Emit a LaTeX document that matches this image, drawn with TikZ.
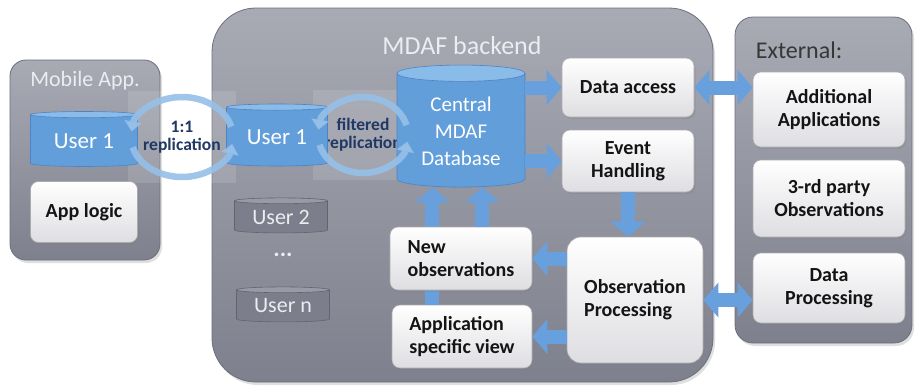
\documentclass[tikz,border=0pt]{standalone}
\usepackage{fontspec}
\setmainfont{Carlito}
\usetikzlibrary{shapes.geometric,arrows.meta,calc,shadows}
\definecolor{panelTop}{RGB}{168,170,180}
\definecolor{panelBot}{RGB}{126,128,141}
\definecolor{panelEdge}{RGB}{108,110,122}
\definecolor{boxEdge}{RGB}{170,170,175}
\definecolor{boxBot}{RGB}{222,222,226}
\definecolor{boxText}{RGB}{20,20,20}
\definecolor{cylBody}{RGB}{98,158,218}
\definecolor{cylTop}{RGB}{138,188,234}
\definecolor{cylEdge}{RGB}{78,132,196}
\definecolor{gcylBody}{RGB}{124,126,139}
\definecolor{gcylTop}{RGB}{152,154,165}
\definecolor{gcylEdge}{RGB}{98,100,113}
\definecolor{arrowBlue}{RGB}{104,160,222}
\definecolor{arcBlue}{RGB}{150,192,232}
\definecolor{navy}{RGB}{31,56,100}
\definecolor{titleWhite}{RGB}{236,237,242}
\begin{document}
\begin{tikzpicture}[x=1pt,y=-1pt,
  panel/.style={rectangle, draw=panelEdge, line width=0.8pt, top color=panelTop, bottom color=panelBot,
    drop shadow={opacity=0.25,shadow xshift=2pt,shadow yshift=-3pt}},
  paneltitle/.style={text=titleWhite, inner sep=0pt},
  box/.style={rectangle, rounded corners=8pt, draw=boxEdge, line width=0.6pt, top color=white, bottom color=boxBot,
    font=\fontsize{20}{23}\selectfont\bfseries, text=boxText, align=center, inner sep=2pt,
    drop shadow={opacity=0.3,shadow xshift=1.5pt,shadow yshift=-2pt}},
  bluecyl/.style={cylinder, shape border rotate=90, draw=cylEdge, line width=0.6pt, cylinder uses custom fill,
    cylinder body fill=cylBody, cylinder end fill=cylTop, text=white, font=\fontsize{23}{27}\selectfont,
    align=center, inner sep=1pt},
  graycyl/.style={cylinder, shape border rotate=90, draw=gcylEdge, line width=0.6pt, cylinder uses custom fill,
    cylinder body fill=gcylBody, cylinder end fill=gcylTop, text=titleWhite, font=\fontsize{22}{26}\selectfont,
    aspect=0.1, minimum width=93pt, minimum height=35pt, inner sep=0pt},
  repbox/.style={rectangle, fill=white, fill opacity=0.12, text opacity=1, text=navy,
    font=\fontsize{17.5}{18}\selectfont\bfseries, align=center, inner sep=0pt},
  reparc/.style={draw=arcBlue, draw opacity=0.9, line width=6.5pt, -{Triangle[width=17pt,length=10pt]}},
  barrow/.style={draw=arrowBlue, line width=14pt, -{Triangle[width=34pt,length=15pt]}},
  dbarrow/.style={draw=arrowBlue, line width=14pt, {Triangle[width=34pt,length=15pt]}-{Triangle[width=34pt,length=15pt]}}
]
\useasboundingbox (0,0) rectangle (917,389);

% panels
\node[panel, rounded corners=16pt, minimum width=150pt, minimum height=200pt] (mobile) at (85,160) {};
\node[paneltitle, font=\fontsize{22}{26}\selectfont] (mobileT) at (85,81) {Mobile App.};
\node[panel, rounded corners=44pt, minimum width=501pt, minimum height=374pt] (backend) at (462.5,195) {};
\node[paneltitle, font=\fontsize{26}{30}\selectfont] (backendT) at (462,46) {MDAF backend};
\node[panel, rounded corners=18pt, minimum width=177pt, minimum height=326pt] (external) at (823.5,180) {};
\node[paneltitle, text=boxText!85, font=\fontsize{24}{28}\selectfont] (externalT) at (799,50) {External:};

% replication areas
\node[repbox, minimum width=108pt, minimum height=92pt] (rep1) at (182,137) {1:1\\replication};
\node[repbox, minimum width=100pt, minimum height=90pt] (rep2) at (363,135) {filtered\\replication};

% mobile app
\node[bluecyl, aspect=0.1, minimum width=107pt, minimum height=55pt] (mu1) at (84,141) {User 1};
\node[box, minimum width=107pt, minimum height=61pt] (applogic) at (84,212) {App logic};

% backend
\node[bluecyl, aspect=0.1, minimum width=101pt, minimum height=62pt] (bu1) at (277,137) {User 1};
\node[bluecyl, aspect=0.2, minimum width=128pt, minimum height=122pt, font=\fontsize{21}{27}\selectfont] (db) at (461,131) {Central\\MDAF\\Database};
\node[graycyl] (u2) at (281,217) {User 2};
\node[font=\fontsize{24}{28}\selectfont\bfseries, text=titleWhite] (dots) at (283,255) {...};
\node[graycyl] (un) at (283,306) {User n};

\node[box, minimum width=132pt, minimum height=59pt] (da) at (628,87.5) {Data access};
\node[box, minimum width=132pt, minimum height=62pt] (eh) at (628,161) {Event\\Handling};
\node[box, minimum width=136pt, minimum height=126pt, rounded corners=14pt, align=left] (obs) at (635,300) {Observation\\Processing};
\node[box, minimum width=140pt, minimum height=63pt, align=left] (appv) at (462,336.5) {Application\\specific view};

% up arrow from application view to database (passes behind New observations)
\coordinate (upA) at ($(appv.north west)!0.29!(appv.north east)$);
\draw[barrow] (upA) -- (upA |- db.south);

\node[box, minimum width=142pt, minimum height=63pt, align=left] (nobs) at (461,258.5) {New\\observations};
\coordinate (upB) at ($(nobs.north west)!0.65!(nobs.north east)$);
\draw[barrow] (upB) -- (upB |- db.south);

% external
\node[box, minimum width=152pt, minimum height=75pt] (aa) at (829,109.5) {Additional\\Applications};
\node[box, minimum width=152pt, minimum height=77pt] (tp) at (829,198.5) {3-rd party\\Observations};
\node[box, minimum width=152pt, minimum height=70pt] (dp) at (829,288) {Data\\Processing};

% block arrows
\draw[barrow] (db.east |- da.west) -- (da.west);
\draw[barrow] (db.east |- eh.west) -- (eh.west);
\draw[barrow] (eh.south) -- (eh.south |- obs.north);
\draw[barrow] (obs.west |- nobs.east) -- (nobs.east);
\draw[barrow] (obs.west |- appv.east) -- (appv.east);
\draw[dbarrow] (da.east) -- (aa.west |- da.east);
\draw[dbarrow] (obs.east) -- (dp.west |- obs.east);

% replication rings (elliptical)
\draw[reparc] ([shift={(-15:51 and 40)}]rep1.center) arc[start angle=-15, end angle=-172, x radius=51, y radius=40];
\draw[reparc] ([shift={(-195:51 and 40)}]rep1.center) arc[start angle=-195, end angle=-350, x radius=51, y radius=40];
\draw[reparc] ([shift={(-15:45 and 38)}]rep2.center) arc[start angle=-15, end angle=-172, x radius=45, y radius=38];
\draw[reparc] ([shift={(-195:45 and 38)}]rep2.center) arc[start angle=-195, end angle=-350, x radius=45, y radius=38];
\end{tikzpicture}
\end{document}
